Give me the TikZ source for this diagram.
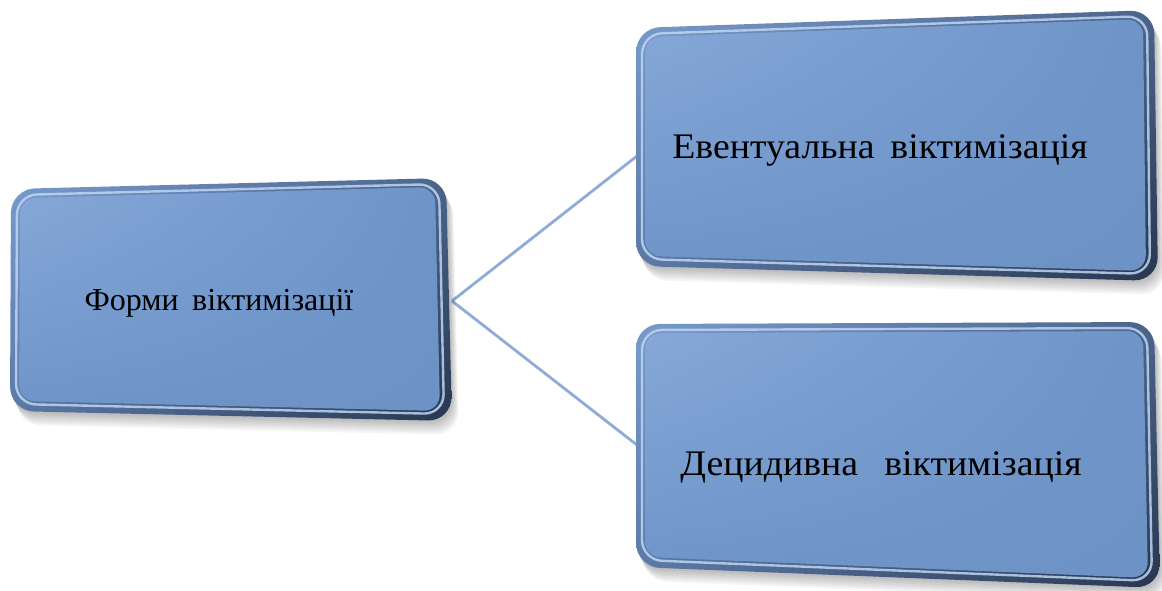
\documentclass[tikz,border=0pt]{standalone}
\usepackage{fontspec}
\setmainfont{Liberation Serif}
\usetikzlibrary{calc,shadings}
\definecolor{facea}{RGB}{134,168,216}
\definecolor{faceb}{RGB}{108,146,198}
\definecolor{rimul}{RGB}{120,155,205}
\definecolor{rimur}{RGB}{75,100,140}
\definecolor{rimll}{RGB}{90,120,165}
\definecolor{rimlr}{RGB}{40,55,80}
\definecolor{rimlight}{RGB}{190,214,242}
\definecolor{linkcol}{RGB}{143,172,216}
\newcommand{\bevelbox}[1]{%
  \foreach \k in {2,4,...,14}
    \fill[black,opacity=0.04,rounded corners=24]
      ($(#11)+(\k*0.5,\k)$) -- ($(#12)+(\k*0.5,\k)$) -- ($(#13)+(\k*0.5,\k)$) -- ($(#14)+(\k*0.5,\k)$) -- cycle;
  \shade[upper left=rimul,upper right=rimur,lower left=rimll,lower right=rimlr,rounded corners=24]
    (#11) -- (#12) -- (#13) -- (#14) -- cycle;
  \draw[rimlight,line width=2.4,opacity=0.85,rounded corners=20]
    ($(#11)+(6,6)$) -- ($(#12)+(-7,6)$) -- ($(#13)+(-8,-7)$) -- ($(#14)+(6,-7)$) -- cycle;
  \shade[upper left=facea,upper right=faceb!92!facea,lower left=faceb!90!facea,lower right=faceb,rounded corners=16]
    ($(#11)+(9,9)$) -- ($(#12)+(-11,9)$) -- ($(#13)+(-12,-10)$) -- ($(#14)+(9,-10)$) -- cycle;
}
\tikzset{
  boxtext/.style={text=black,inner sep=0pt,anchor=center},
  link/.style={draw=linkcol,line width=2.8}
}
\begin{document}
\begin{tikzpicture}[x=1pt,y=-1pt]
\useasboundingbox[fill=white] (0,0) rectangle (1162,590);
% corners of the boxes (top-left, top-right, bottom-right, bottom-left)
\coordinate (L1) at (11,189);
\coordinate (L2) at (446,178);
\coordinate (L3) at (452,421);
\coordinate (L4) at (10,411);
\coordinate (E1) at (636,28);
\coordinate (E2) at (1154,10);
\coordinate (E3) at (1158,281);
\coordinate (E4) at (636,266);
\coordinate (D1) at (636,324);
\coordinate (D2) at (1154,322);
\coordinate (D3) at (1160,588);
\coordinate (D4) at (636,567);
% connector ends
\coordinate (lout) at (452,301);
\coordinate (ein) at (637,156);
\coordinate (din) at (637,445);
\draw[link] (lout) -- (ein);
\draw[link] (lout) -- (din);
\bevelbox{L}
\bevelbox{E}
\bevelbox{D}
\node[boxtext,font=\fontsize{32}{38}\selectfont] (forms) at (219,303) {Форми\, віктимізації};
\node[boxtext,font=\fontsize{36}{42}\selectfont,xscale=1.05] (evt) at (880,150) {Евентуальна\, віктимізація};
\node[boxtext,font=\fontsize{36}{42}\selectfont,xscale=1.05] (dec) at (881,467) {Децидивна\;\, віктимізація};
\end{tikzpicture}
\end{document}
